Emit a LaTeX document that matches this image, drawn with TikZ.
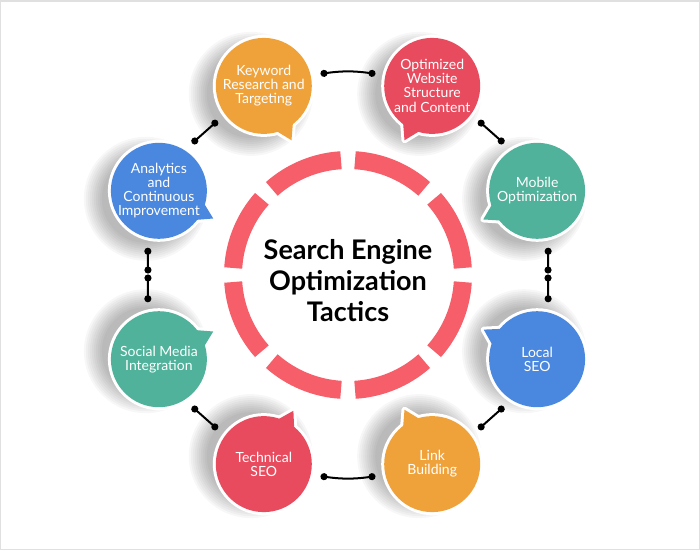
\documentclass[tikz,border=0pt]{standalone}
\usepackage{fontspec}
\setmainfont{Lato}
\usetikzlibrary{arrows.meta,calc}
\definecolor{seoorange}{HTML}{F0A23A}
\definecolor{seored}{HTML}{E94B5E}
\definecolor{seoteal}{HTML}{50B29A}
\definecolor{seoblue}{HTML}{4A87DE}
\definecolor{seoring}{HTML}{F65E69}
\pgfdeclarelayer{background}
\pgfsetlayers{background,main}
\tikzset{
  bubble/.style={circle, minimum size=104pt, inner sep=0pt, outer sep=6pt,
    align=center, text=white, font=\fontsize{14}{14}\selectfont},
  ringpart/.style={draw=seoring, line width=18pt},
  title/.style={align=center, font=\bfseries\fontsize{27}{31}\selectfont},
  chain/.style={line width=2pt, {Circle[length=7pt]}-{Circle[length=7pt]}}
}
% #1 node, #2 colour, #3 tail angle, #4 shadow drop
\newcommand{\bubblebody}[4]{%
  \begin{pgfonlayer}{background}
    \foreach \k in {0,...,9}
      \fill[black, opacity=0.032] ($(#1)+(-13,#4)$) circle[radius=44+2*\k];
    \draw[white, line width=6pt] (#1) circle[radius=48];
    \draw[white, line width=6pt, line join=round]
      ($(#1)+(#3-15:44)$) -- ($(#1)+(#3:61)$) -- ($(#1)+(#3+15:44)$) -- cycle;
    \fill[#2] (#1) circle[radius=48];
    \fill[#2] ($(#1)+(#3-15:44)$) -- ($(#1)+(#3:61)$) -- ($(#1)+(#3+15:44)$) -- cycle;
  \end{pgfonlayer}}

\begin{document}
\begin{tikzpicture}[x=1pt, y=1pt]
  \useasboundingbox (-348,-275) rectangle (352,275);
  \draw[black!12, line width=1.5pt] (-347.25,-274.25) rectangle (351.25,274.25);

  \draw
    (114:207) node[bubble] (kw) {Keyword\\Research and\\Targeting}
    (66:207) node[bubble] (opt) {Optimized\\Website\\Structure\\and Content}
    (24:207) node[bubble] (mob) {Mobile\\Optimization}
    (-24:207) node[bubble] (loc) {Local\\SEO}
    (-66:207) node[bubble] (link) {Link\\Building}
    (-114:207) node[bubble] (tech) {Technical\\SEO}
    (204:207) node[bubble] (soc) {Social Media\\Integration}
    (156:207) node[bubble] (ana) {Analytics\\and\\Continuous\\Improvement};
  \coordinate (mr1) at (200,1.5);
  \coordinate (mr2) at (200,0.5);
  \coordinate (ml1) at (-200,1.5);
  \coordinate (ml2) at (-200,0.5);

  \bubblebody{kw}{seoorange}{-63}{-8}
  \bubblebody{opt}{seored}{-117}{-8}
  \bubblebody{mob}{seoteal}{208}{-8}
  \bubblebody{loc}{seoblue}{151}{8}
  \bubblebody{link}{seoorange}{117}{8}
  \bubblebody{tech}{seored}{61}{8}
  \bubblebody{soc}{seoteal}{27}{8}
  \bubblebody{ana}{seoblue}{-27}{-8}

  % ring
  \draw[ringpart] (3.5:115) arc[start angle=3.5, end angle=41.5, radius=115];
  \draw[ringpart] (48.5:115) arc[start angle=48.5, end angle=86.5, radius=115];
  \draw[ringpart] (93.5:115) arc[start angle=93.5, end angle=131.5, radius=115];
  \draw[ringpart] (138.5:115) arc[start angle=138.5, end angle=176.5, radius=115];
  \draw[ringpart] (183.5:115) arc[start angle=183.5, end angle=221.5, radius=115];
  \draw[ringpart] (228.5:115) arc[start angle=228.5, end angle=266.5, radius=115];
  \draw[ringpart] (273.5:115) arc[start angle=273.5, end angle=311.5, radius=115];
  \draw[ringpart] (318.5:115) arc[start angle=318.5, end angle=356.5, radius=115];
  \node[title] (seo) at (0,-6) {Search Engine\\Optimization\\Tactics};

  \begin{scope}[chain]
    \draw (kw.12) to[bend left=8] (opt.168);
    \draw (opt.-37) to (mob.125);
    \draw (mob.-79) to (mr1);
    \draw (mr2) to (loc.79);
    \draw (loc.-125) to (link.37);
    \draw (link.-168) to[bend left=8] (tech.-12);
    \draw (tech.143) to (soc.-55);
    \draw (soc.101) to (ml2);
    \draw (ml1) to (ana.-101);
    \draw (ana.55) to (kw.-143);
  \end{scope}
\end{tikzpicture}
\end{document}
